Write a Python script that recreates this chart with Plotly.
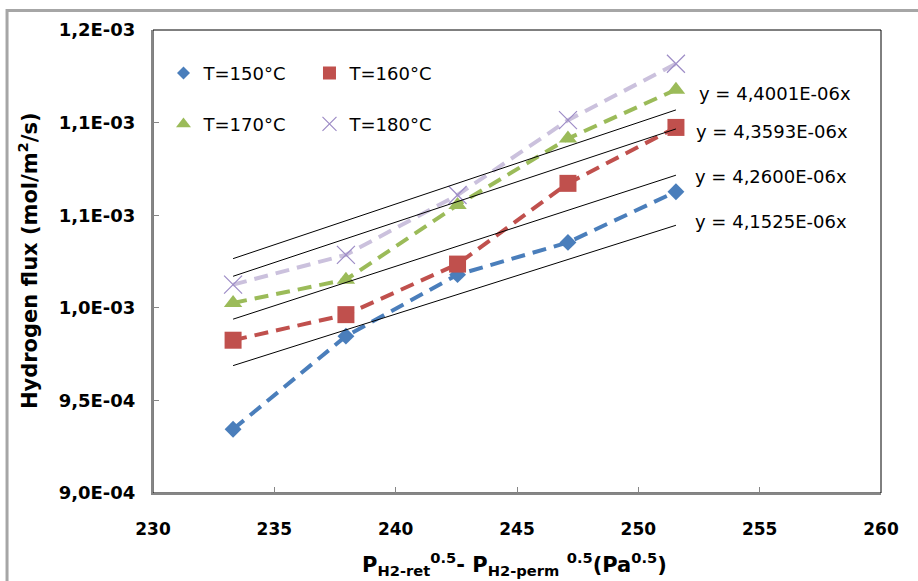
import plotly.graph_objects as go

# ---------------- data ----------------
x_vals = [233.3, 237.95, 242.55, 247.1, 251.55]
series_names = ["T=150°C", "T=160°C", "T=170°C", "T=180°C"]
flux_150 = [0.0009344, 0.0009847, 0.0010179, 0.0010353, 0.0010627]
flux_160 = [0.0009825, 0.0009963, 0.0010236, 0.0010672, 0.0010974]
flux_170 = [0.0010026, 0.0010152, 0.0010555, 0.0010914, 0.0011178]
flux_180 = [0.0010125, 0.0010286, 0.0010609, 0.0011013, 0.0011318]
trend_slopes = [4.4001e-06, 4.3593e-06, 4.2600e-06, 4.1525e-06]
trend_labels = ["y = 4,4001E-06x", "y = 4,3593E-06x", "y = 4,2600E-06x", "y = 4,1525E-06x"]
y_tickvals = [0.0009, 0.00095, 0.0010, 0.00105, 0.0011, 0.00115]
y_ticktext = ["9,0E-04", "9,5E-04", "1,0E-03", "1,1E-03", "1,1E-03", "1,2E-03"]
x_tickvals = [230, 235, 240, 245, 250, 255, 260]

# ---------------- styles ----------------
line_colors = ["#4a7ebb", "#c0504d", "#9bbb59", "#cbc1dd"]
marker_colors = ["#4a7ebb", "#c0504d", "#9bbb59", "#9d8cc6"]
symbols = ["diamond", "square", "triangle-up", "x-thin-open"]
marker_sizes = [13, 17, 16, 18]
legend_sizes = [10, 13, 13, 14]
FONT = "DejaVu Sans"

fig = go.Figure()
all_flux = [flux_150, flux_160, flux_170, flux_180]
for i, ys in enumerate(all_flux):
    mk = dict(color=marker_colors[i], size=marker_sizes[i], symbol=symbols[i])
    if symbols[i] == "x-thin-open":
        mk["line"] = dict(color=marker_colors[i], width=1.2)
    fig.add_trace(go.Scatter(
        x=x_vals, y=ys, mode="lines+markers", showlegend=False,
        line=dict(color=line_colors[i], width=4, dash="14px,8px"),
        marker=mk,
    ))

# trend lines y = k*x over the data range
x_tr = [x_vals[0], x_vals[-1]]
for k in trend_slopes:
    fig.add_trace(go.Scatter(
        x=x_tr, y=[k * xv for xv in x_tr], mode="lines", showlegend=False,
        line=dict(color="black", width=1),
    ))

# legend-only entries (markers only, as in the reference)
for i, name in enumerate(series_names):
    mk = dict(color=marker_colors[i], size=legend_sizes[i], symbol=symbols[i])
    if symbols[i] == "x-thin-open":
        mk["line"] = dict(color=marker_colors[i], width=1.2)
    fig.add_trace(go.Scatter(
        x=[None], y=[None], mode="markers", name=name, marker=mk,
        legend="legend" if i in (0, 1) else "legend2",
    ))

# equation labels
eq_pos = [(0.7466, 0.8638), (0.7425, 0.7797), (0.7411, 0.6843), (0.7411, 0.5858)]
annotations = []
for (px, py), txt in zip(eq_pos, trend_labels):
    annotations.append(dict(
        x=px, y=py, xref="paper", yref="paper", text=txt, showarrow=False,
        xanchor="left", yanchor="middle",
        font=dict(family=FONT, size=18, color="black"),
    ))

annotations.append(dict(
    x=-0.1717, y=0.501, xref="paper", yref="paper",
    text="<b>Hydrogen flux (mol/m<sup>2</sup>/s)</b>", textangle=-90,
    showarrow=False, xanchor="center", yanchor="middle",
    font=dict(family=FONT, size=21, color="black"),
))
annotations.append(dict(
    x=0.497, y=-0.154, xref="paper", yref="paper",
    text="<b>P<sub>H2-ret</sub><sup>0.5</sup>- P<sub>H2-perm</sub> <sup>0.5</sup>(Pa<sup>0.5</sup>)</b>",
    showarrow=False, xanchor="center", yanchor="middle",
    font=dict(family=FONT, size=21, color="black"),
))

shapes = [
    # plot area frame (top/right show as thin black)
    dict(type="rect", xref="paper", yref="paper", x0=0, x1=1, y0=0, y1=1,
         line=dict(color="black", width=1), layer="below"),
    # outer chart border (cropped at right and bottom)
    dict(type="rect", xref="paper", yref="paper", x0=-0.2005, x1=1.3, y0=-0.4, y1=1.042,
         line=dict(color="#a6a6a6", width=3), layer="below"),
]

legend_common = dict(orientation="h", xanchor="left", yanchor="middle",
                     font=dict(family=FONT, size=18), entrywidth=101, itemwidth=30,
                     bgcolor="rgba(0,0,0,0)", tracegroupgap=0)

fig.update_layout(
    width=918, height=581,
    margin=dict(l=153, r=37, t=29.5, b=87.5),
    paper_bgcolor="white", plot_bgcolor="white",
    font=dict(family=FONT, color="black"),
    annotations=annotations, shapes=shapes,
    legend=dict(x=0.0144, y=0.9065, **legend_common),
    legend2=dict(x=0.0144, y=0.7965, **legend_common),
)
fig.update_xaxes(
    range=[230, 260], tickvals=x_tickvals, showgrid=False, zeroline=False,
    showline=True, linecolor="#868686", linewidth=2,
    ticks="inside", ticklen=6, tickcolor="#868686", tickwidth=1,
    tickfont=dict(family=FONT, size=17, color="black", weight="bold"),
    ticklabelstandoff=20,
)
fig.update_yaxes(
    range=[0.0009, 0.00115], tickvals=y_tickvals, ticktext=y_ticktext,
    showgrid=False, zeroline=False,
    showline=True, linecolor="#868686", linewidth=2,
    ticks="inside", ticklen=6, tickcolor="#868686", tickwidth=1,
    tickfont=dict(family=FONT, size=18, color="black", weight="bold"),
    ticklabelstandoff=12,
)
fig.write_html("out.html", config={"displayModeBar": False},
               post_script="document.body.style.margin='0px';")
